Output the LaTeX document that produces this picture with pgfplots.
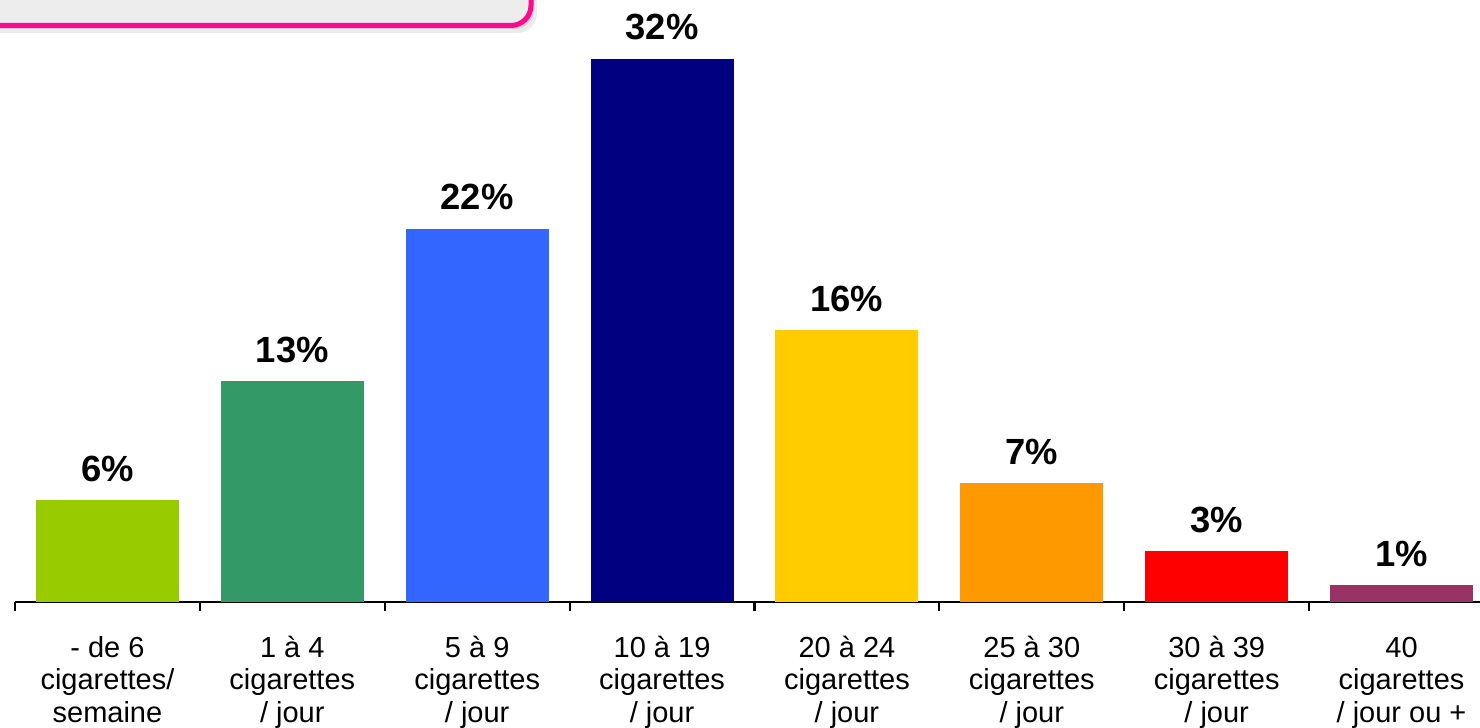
\documentclass[border=0pt]{standalone}
\usepackage{fontspec}
\setmainfont{Liberation Sans}
\usepackage{pgfplots}
\pgfplotsset{compat=1.18}
\definecolor{c1}{HTML}{99CC00}
\definecolor{c2}{HTML}{339966}
\definecolor{c3}{HTML}{3366FF}
\definecolor{c4}{HTML}{000080}
\definecolor{c5}{HTML}{FFCC00}
\definecolor{c6}{HTML}{FF9900}
\definecolor{c7}{HTML}{FF0000}
\definecolor{c8}{HTML}{993366}
\definecolor{boxpink}{HTML}{FF0A8C}
\definecolor{boxgray}{HTML}{EDEDED}
\newcommand{\tl}{\rule{0pt}{11pt}}
\begin{document}
\begin{tikzpicture}
% title box, cut by the top edge
\fill[black,opacity=0.08,rounded corners=10pt] (-20pt,400pt) rectangle (268.5pt,347.5pt);
\fill[black,opacity=0.12,rounded corners=10pt] (-20pt,400pt) rectangle (267pt,349.5pt);
\draw[line width=2.5pt,draw=boxpink,fill=boxgray,rounded corners=10pt] (-20pt,400pt) rectangle (265.5pt,351.25pt);
\begin{axis}[
    scale only axis,
    width=739.5pt, height=297pt,
    at={(7.5pt,63pt)}, anchor=south west,
    xmin=-0.5, xmax=7.5, ymin=0, ymax=35,
    clip=false,
    ybar, bar width=71.5pt, bar shift=0pt,
    hide y axis,
    axis x line*=bottom,
    x axis line style={line width=1.3pt},
    xtick={0,...,7},
    major tick length=0pt,
    minor xtick={-0.5,0.5,...,7.5},
    minor tick length=4.5pt,
    tick align=outside,
    minor tick style={line width=1.1pt,black},
    xticklabels={
        {\tl- de 6\\cigarettes/\\semaine},
        {\tl1 à 4\\cigarettes\\/ jour},
        {\tl5 à 9\\cigarettes\\/ jour},
        {\tl10 à 19\\cigarettes\\/ jour},
        {\tl20 à 24\\cigarettes\\/ jour},
        {\tl25 à 30\\cigarettes\\/ jour},
        {\tl30 à 39\\cigarettes\\/ jour},
        {\tl40\\cigarettes\\/ jour ou +}},
    xticklabel style={align=center,font=\fontsize{14.5}{16.2}\selectfont,
        inner sep=0pt,anchor=north,yshift=-16.5pt},
    nodes near coords={\pgfmathprintnumber[assume math mode=true]{\pgfplotspointmeta}\%},
    every node near coord/.append style={font=\bfseries\fontsize{18.2}{18}\selectfont,
        anchor=base,inner sep=0pt,yshift=9.5pt,black},
]
\addplot[fill=c1,draw=none] coordinates {(0,6)};
\addplot[fill=c2,draw=none] coordinates {(1,13)};
\addplot[fill=c3,draw=none] coordinates {(2,22)};
\addplot[fill=c4,draw=none] coordinates {(3,32)};
\addplot[fill=c5,draw=none] coordinates {(4,16)};
\addplot[fill=c6,draw=none] coordinates {(5,7)};
\addplot[fill=c7,draw=none] coordinates {(6,3)};
\addplot[fill=c8,draw=none] coordinates {(7,1)};
\end{axis}
\pgfresetboundingbox
\path[use as bounding box] (0,0) rectangle (740pt,364pt);
\end{tikzpicture}
\end{document}
